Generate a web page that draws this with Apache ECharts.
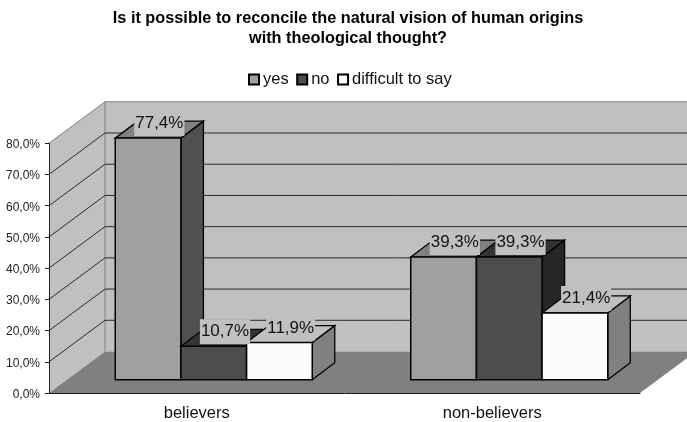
<!DOCTYPE html>
<html>
<head>
<meta charset="utf-8">
<style>html,body{margin:0;padding:0;background:#fff}#chart{width:687px;height:422px}</style>
<script src="https://cdn.jsdelivr.net/npm/echarts@6/dist/echarts.min.js"></script>
</head>
<body>
<div id="chart"></div>
<script>
const categories = ['believers', 'non-believers'];
const yes = [77.4, 39.3];
const no = [10.7, 39.3];
const difficult = [11.9, 21.4];
const yTicks = [0, 10, 20, 30, 40, 50, 60, 70, 80];

const FONT = '"Liberation Sans", Arial, sans-serif';
const comma = v => v.toFixed(1).replace('.', ',') + '%';

// Oblique projection: full floor depth, bar depth, and where the bars sit on the floor.
const WALL = [56, -41.5];
const DEPTH = [22.5, -17];
const SHIFT = [17, -13.3];
// Three boxes fill two thirds of each category band.
const CLUSTER = 2 / 3;

const faces = [
  { front: '#a0a0a0', top: '#808080', side: '#505050' },
  { front: '#4d4d4d', top: '#333333', side: '#262626' },
  { front: '#fbfbfb', top: '#c0c0c0', side: '#808080' }
];

const poly = (pts, fill, stroke, width) => ({
  type: 'polygon',
  shape: { points: pts },
  style: { fill, stroke: stroke || 'none', lineWidth: width || 0 }
});
const line = (a, b, stroke, width) => ({
  type: 'line',
  shape: { x1: a[0], y1: a[1], x2: b[0], y2: b[1] },
  style: { stroke, lineWidth: width || 1 }
});

// Side wall, back wall, floor and gridlines, all placed from the value axis.
function renderWalls(params, api) {
  const band = api.size([1, 0])[0];
  const v = api.value(1);
  const xL = api.coord([0, v])[0] - band / 2;
  const xR = api.coord([1, v])[0] + band / 2;
  const y = api.coord([0, v])[1];
  const y0 = api.coord([0, 0])[1];
  const yMax = api.coord([0, yTicks[yTicks.length - 1]])[1];
  const back = (x, yy) => [x + WALL[0], yy + WALL[1]];
  const kids = [];
  if (params.dataIndex === 0) {
    kids.push(poly([[xL, y0], back(xL, y0), back(xL, yMax), [xL, yMax]], '#c0c0c0'));
    kids.push(poly([back(xL, y0), back(xR, y0), back(xR, yMax), back(xL, yMax)], '#c0c0c0'));
    kids.push(poly([[xL, y0], [xR, y0], back(xR, y0), back(xL, y0)], '#808080'));
    kids.push(line(back(xL, y0), back(xL, yMax), '#808080', 1));
    kids.push(line([xL, yMax], back(xL, yMax), '#808080', 1));
    kids.push(line(back(xL, yMax), back(xR, yMax), '#808080', 1));
  } else if (v !== yTicks[yTicks.length - 1]) {
    kids.push(line([xL, y], back(xL, y), '#2a2a2a', 1));
    kids.push(line(back(xL, y), back(xR, y), '#2a2a2a', 1));
  }
  return { type: 'group', children: kids };
}

// One box per category: front, top and side faces plus the value label over the top face.
function renderBar(seriesIdx) {
  return function (params, api) {
    const cat = api.value(0);
    const val = api.value(1);
    const w = api.size([1, 0])[0] * CLUSTER / 3;
    const base = api.coord([cat, 0]);
    const topPt = api.coord([cat, val]);
    const x0 = base[0] + SHIFT[0] - 1.5 * w + seriesIdx * w;
    const x1 = x0 + w;
    const yB = base[1] + SHIFT[1];
    const yT = topPt[1] + SHIFT[1];
    const dx = DEPTH[0], dy = DEPTH[1];
    const f = faces[seriesIdx];
    return {
      type: 'group',
      children: [
        poly([[x1, yB], [x1 + dx, yB + dy], [x1 + dx, yT + dy], [x1, yT]], f.side, '#000', 1.3),
        poly([[x0, yT], [x0 + dx, yT + dy], [x1 + dx, yT + dy], [x1, yT]], f.top, '#000', 1.3),
        poly([[x0, yB], [x1, yB], [x1, yT], [x0, yT]], f.front, '#000', 1.5),
        {
          type: 'text',
          z2: 50,
          style: {
            text: comma(val),
            x: (x0 + x1) / 2 + dx / 2,
            y: yT + dy / 2 - 6,
            align: 'center',
            verticalAlign: 'middle',
            font: '17px ' + FONT,
            fill: '#111',
            backgroundColor: '#c0c0c0',
            padding: [5, 1, 3, 1]
          }
        }
      ]
    };
  };
}

const barSeries = (name, values, idx) => ({
  name,
  type: 'custom',
  z: 3,
  clip: false,
  coordinateSystem: 'cartesian2d',
  encode: { x: 0, y: 1 },
  data: values.map((v, i) => [i, v]),
  itemStyle: { color: faces[idx].front, borderColor: '#000', borderWidth: 1.5 },
  renderItem: renderBar(idx)
});

const chart = echarts.init(document.getElementById('chart'), null, { renderer: 'canvas' });
chart.setOption({
  animation: false,
  backgroundColor: '#fff',
  title: {
    text: 'Is it possible to reconcile the natural vision of human origins\nwith theological thought?',
    left: 343,
    top: 4,
    textAlign: 'center',
    textStyle: { fontFamily: FONT, fontSize: 16.3, fontWeight: 'bold', color: '#000', lineHeight: 20 }
  },
  legend: {
    data: ['yes', 'no', 'difficult to say'],
    left: 243,
    top: 66,
    icon: 'rect',
    itemWidth: 10,
    itemHeight: 10,
    itemGap: 7.5,
    textStyle: { fontFamily: FONT, fontSize: 16.5, color: '#111', padding: [0, 0, 0, -1] },
    selectedMode: false
  },
  grid: { left: 49, right: 47, top: 143.3, bottom: 28.7 },
  xAxis: {
    type: 'category',
    data: categories,
    z: 2,
    axisLine: { lineStyle: { color: '#222', width: 1 } },
    axisTick: { length: 5, lineStyle: { color: '#222' } },
    axisLabel: { fontFamily: FONT, fontSize: 16.5, color: '#111', margin: 12 }
  },
  yAxis: {
    type: 'value',
    min: 0,
    max: 80,
    interval: 10,
    z: 2,
    axisLine: { show: true, lineStyle: { color: '#222', width: 1 } },
    axisTick: { show: true, length: 4, lineStyle: { color: '#222' } },
    splitLine: { show: false },
    axisLabel: { fontFamily: FONT, fontSize: 12, color: '#222', margin: 9, verticalAlign: 'top', lineHeight: 3, formatter: comma }
  },
  series: [
    {
      name: 'walls',
      type: 'custom',
      z: 1,
      silent: true,
      clip: false,
      coordinateSystem: 'cartesian2d',
      encode: { x: 0, y: 1 },
      data: yTicks.map(v => [0, v]),
      renderItem: renderWalls
    },
    barSeries('yes', yes, 0),
    barSeries('no', no, 1),
    barSeries('difficult to say', difficult, 2)
  ]
});
</script>
</body>
</html>
